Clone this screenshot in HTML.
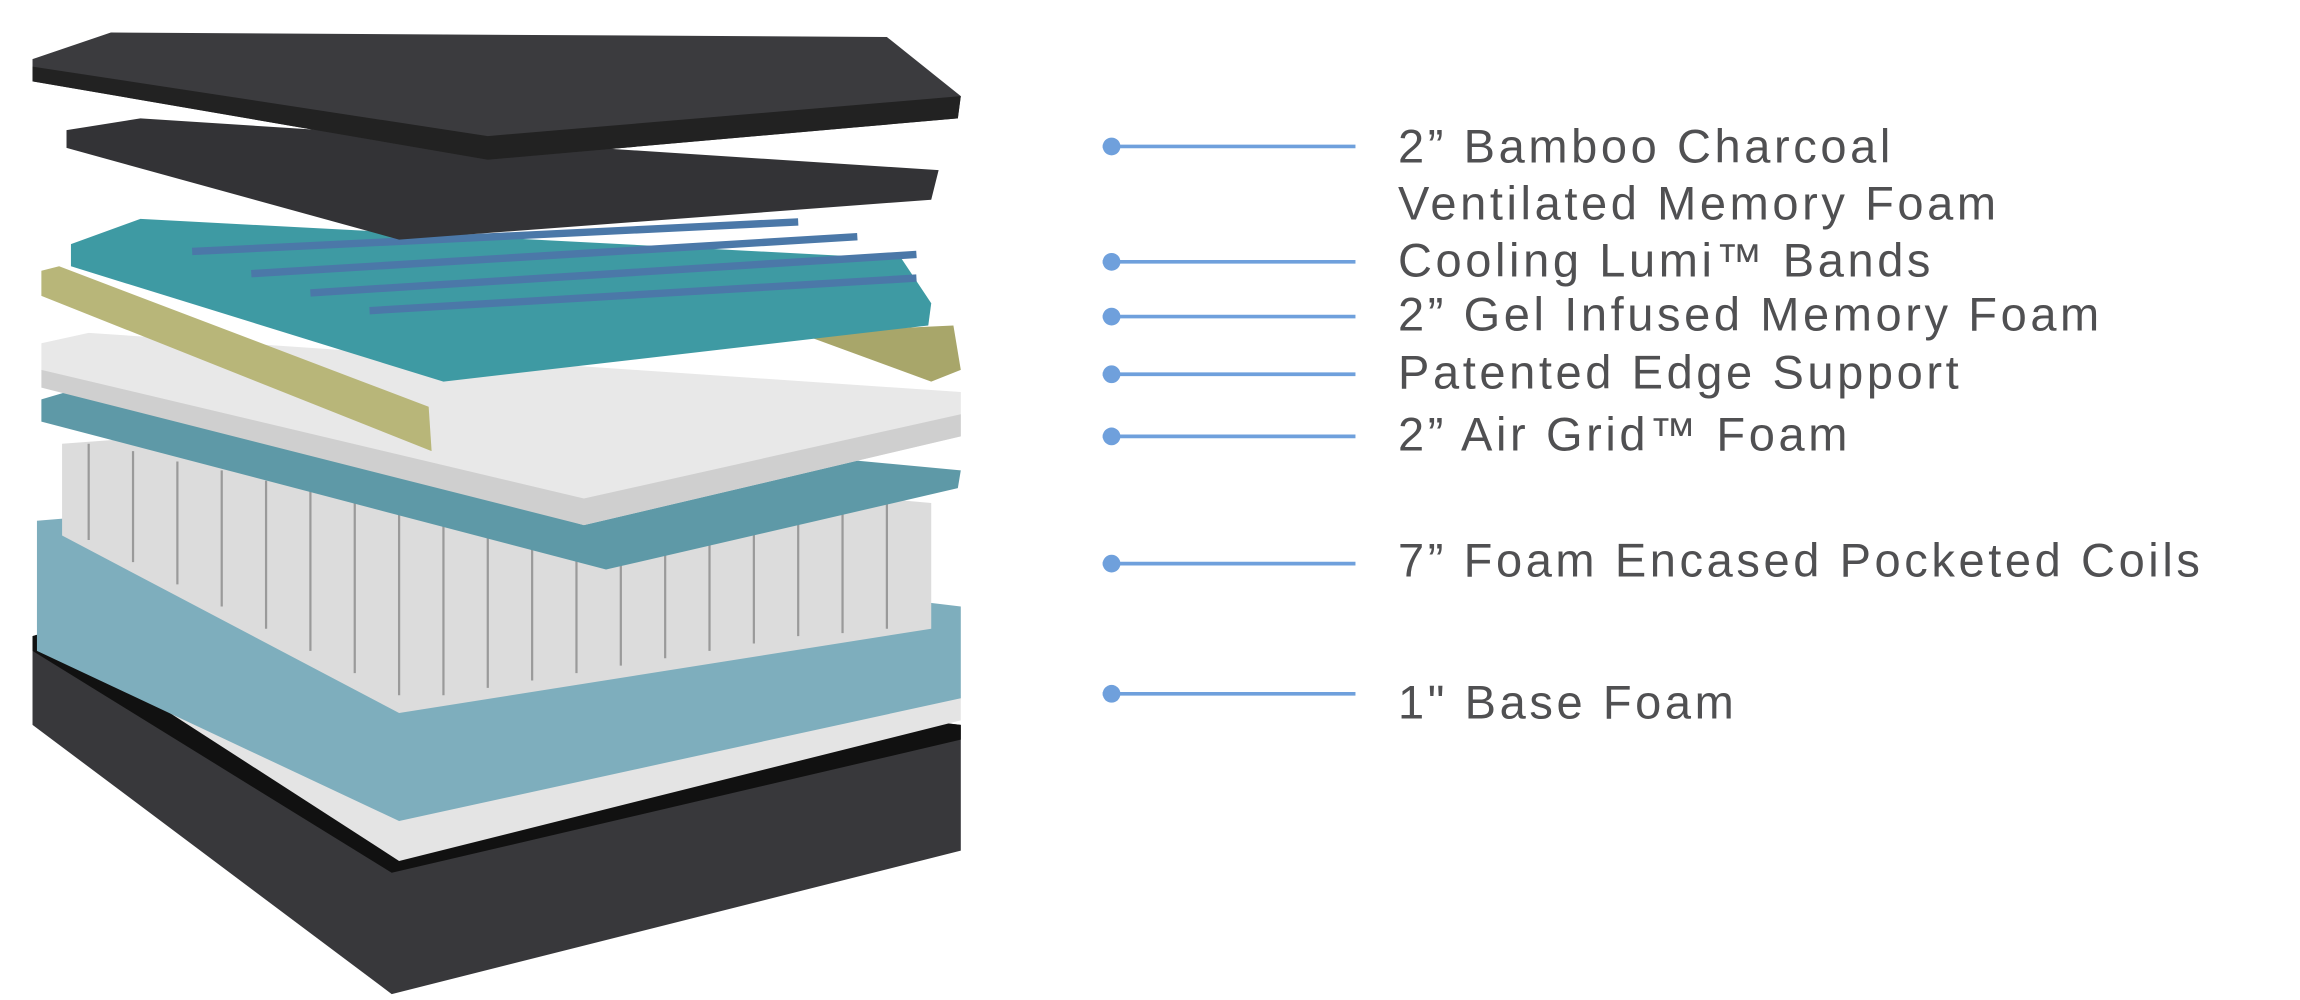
<!DOCTYPE html>
<html><head><meta charset="utf-8"><style>
html,body{margin:0;padding:0;background:#fff;}
#w{position:relative;width:2300px;height:1000px;overflow:hidden;background:#fff;}
svg{position:absolute;left:0;top:0;}
.t{position:absolute;left:1398px;font-family:"Liberation Sans",sans-serif;font-size:47px;letter-spacing:3.6px;color:#505052;line-height:1;white-space:nowrap;transform:translateY(-50%);}
</style></head><body><div id="w">
<svg width="2300" height="1000" viewBox="0 0 1556 676" preserveAspectRatio="none">
<polygon points="22,430 50,422 650,490 650,575 265,672 22,490" fill="#38383b"/>
<polygon points="22,430 50,422 650,490 650,500 265,590 22,440" fill="#111"/>
<polygon points="25,408 40,402 650,470 650,487 270,582 25,424" fill="#e4e4e4"/>
<polygon points="25,352 110,345 650,410 650,472 270,555 25,440" fill="#7eaebd"/>
<polygon points="42,300 110,295 630,340 630,425 270,482 42,362" fill="#dcdcdc"/>
<g stroke="#9a9a9a" stroke-width="1.5">
<line x1="60" y1="300" x2="60" y2="365"/><line x1="90" y1="305" x2="90" y2="380"/><line x1="120" y1="312" x2="120" y2="395"/><line x1="150" y1="318" x2="150" y2="410"/><line x1="180" y1="325" x2="180" y2="425"/><line x1="210" y1="332" x2="210" y2="440"/><line x1="240" y1="338" x2="240" y2="455"/><line x1="270" y1="345" x2="270" y2="470"/><line x1="300" y1="350" x2="300" y2="470"/><line x1="330" y1="355" x2="330" y2="465"/><line x1="360" y1="360" x2="360" y2="460"/><line x1="390" y1="364" x2="390" y2="455"/><line x1="420" y1="360" x2="420" y2="450"/><line x1="450" y1="356" x2="450" y2="445"/><line x1="480" y1="352" x2="480" y2="440"/><line x1="510" y1="348" x2="510" y2="435"/><line x1="540" y1="345" x2="540" y2="430"/><line x1="570" y1="342" x2="570" y2="428"/><line x1="600" y1="340" x2="600" y2="425"/>
</g>
<polygon points="28,270 55,262 650,318 648,330 410,385 28,285" fill="#5e99a7"/>
<polygon points="28,232 60,225 650,265 650,295 395,355 28,250" fill="#e8e8e8"/>
<polygon points="28,250 395,337 650,280 650,295 395,355 28,262" fill="#cfcfcf"/>
<polygon points="28,183 40,180 290,275 292,305 28,200" fill="#b8b679"/>
<polygon points="540,225 645,220 650,250 630,258" fill="#a8a66a"/>
<polygon points="48,165 95,148 610,175 630,205 628,220 300,258 48,180" fill="#3e9aa3"/>
<g stroke="#4b78a8" stroke-width="5"><line x1="130" y1="170" x2="540" y2="150"/><line x1="170" y1="185" x2="580" y2="160"/><line x1="210" y1="198" x2="620" y2="172"/><line x1="250" y1="210" x2="620" y2="188"/></g>
<polygon points="45,88 95,80 635,115 630,135 270,162 45,100" fill="#333336"/>
<polygon points="22,40 75,22 600,25 650,65 648,80 330,108 22,55" fill="#3b3b3e"/>
<polygon points="22,45 330,92 650,65 648,80 330,108 22,55" fill="#222"/>
<g stroke="#6fa0dc" stroke-width="2.5">
<line x1="746" y1="99" x2="917" y2="99"/><line x1="746" y1="177" x2="917" y2="177"/><line x1="746" y1="214" x2="917" y2="214"/><line x1="746" y1="253" x2="917" y2="253"/><line x1="746" y1="295" x2="917" y2="295"/><line x1="746" y1="381" x2="917" y2="381"/><line x1="746" y1="469" x2="917" y2="469"/>
</g>
<g fill="#6fa0dc"><circle cx="752" cy="99" r="6"/><circle cx="752" cy="177" r="6"/><circle cx="752" cy="214" r="6"/><circle cx="752" cy="253" r="6"/><circle cx="752" cy="295" r="6"/><circle cx="752" cy="381" r="6"/><circle cx="752" cy="469" r="6"/></g>
</svg>
<div class="t" style="top:146px">2” Bamboo Charcoal</div>
<div class="t" style="top:203px">Ventilated Memory Foam</div>
<div class="t" style="top:260px">Cooling Lumi™ Bands</div>
<div class="t" style="top:314px">2” Gel Infused Memory Foam</div>
<div class="t" style="top:372px">Patented Edge Support</div>
<div class="t" style="top:434px">2” Air Grid™ Foam</div>
<div class="t" style="top:560px">7” Foam Encased Pocketed Coils</div>
<div class="t" style="top:702px">1" Base Foam</div>
</div></body></html>
